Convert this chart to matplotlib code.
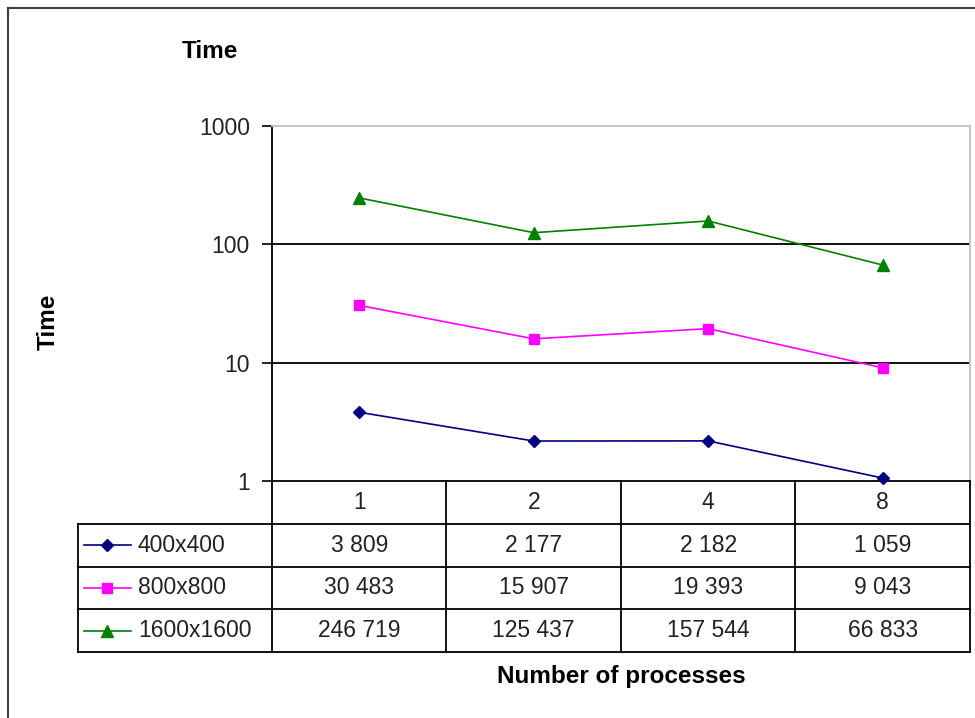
import matplotlib.pyplot as plt
import numpy as np
from matplotlib.lines import Line2D

plt.rcParams['font.family'] = ['Liberation Sans', 'DejaVu Sans']

procs = ['1', '2', '4', '8']
sizes = ['400x400', '800x800', '1600x1600']
t_400 = [3809, 2177, 2182, 1059]
t_800 = [30483, 15907, 19393, 9043]
t_1600 = [246719, 125437, 157544, 66833]
colors = ['#000080', '#FF00FF', '#008000']
markers = ['D', 's', '^']
msizes = [6, 7, 8]

series = [t_400, t_800, t_1600]

W, H = 975, 718
fig = plt.figure(figsize=(W / 100, H / 100), dpi=100)


def fbox(x0, y0, x1, y1):
    # pixel box (top-left origin) -> figure fraction rect
    return [x0 / W, 1 - y1 / H, (x1 - x0) / W, (y1 - y0) / H]


# outer chart frame
fig.add_artist(Line2D([8 / W, 8 / W], [0, 1 - 8 / H], color='#404040', lw=1.5))
fig.add_artist(Line2D([8 / W, 1], [1 - 8 / H, 1 - 8 / H], color='#404040', lw=1.5))

ax = fig.add_axes(fbox(272, 126, 970, 481))
x = np.arange(len(procs))
for vals, c, m, ms, lab in zip(series, colors, markers, msizes, sizes):
    ax.plot(x, np.array(vals) / 1000, color=c, marker=m, markersize=ms,
            lw=1.2, label=lab, zorder=3, clip_on=False)

ax.set_yscale('log')
ax.set_ylim(1, 1000)
ax.set_xlim(-0.5, len(procs) - 0.5)
ax.set_yticks([1, 10, 100, 1000])
ax.set_yticklabels(['1', '10', '100', '1000'])
ax.yaxis.set_minor_locator(plt.NullLocator())
ax.set_xticks([])
ax.tick_params(axis='y', length=7, width=1.2, pad=9, labelsize=16.5,
               labelcolor='#222222')
for yv in [10, 100]:
    ax.axhline(yv, color='black', lw=1.3, zorder=1)
for side in ['left', 'bottom']:
    ax.spines[side].set_color('black')
    ax.spines[side].set_linewidth(1.3)
for side in ['top', 'right']:
    ax.spines[side].set_color('#c0c0c0')
    ax.spines[side].set_linewidth(1.3)

# data table beneath the plot, sharing the category positions
col_w = (970 - 272) / len(procs)
lab_w = (272 - 78) / col_w
tab = fig.add_axes(fbox(78, 481, 970, 652))
tab.set_xlim(-0.5 - lab_w, len(procs) - 0.5)
tab.set_ylim(4, 0)
tab.axis('off')
lk = dict(color='black', lw=1.3, clip_on=False)
left = -0.5 - lab_w
right = len(procs) - 0.5
for r in [1, 2, 3, 4]:
    tab.plot([left, right], [r, r], **lk)
for b in np.arange(len(procs) + 1) - 0.5:
    tab.plot([b, b], [0, 4], **lk)
tab.plot([left, left], [1, 4], **lk)

fs = 16.5
for i, p in enumerate(procs):
    tab.text(i, 0.5, p, ha='center', va='center', fontsize=fs, color='#222222')
for r, (vals, c, m, ms, lab) in enumerate(zip(series, colors, markers, msizes, sizes), start=1):
    lx0 = left + 6 / col_w
    lx1 = left + 53 / col_w
    tab.plot([lx0, lx1], [r + 0.5, r + 0.5], color=c, lw=1.2, clip_on=False)
    tab.plot([(lx0 + lx1) / 2], [r + 0.5], color=c, marker=m, markersize=ms,
             clip_on=False)
    tab.text(left + 60 / col_w, r + 0.5, lab, ha='left', va='center',
             fontsize=fs, color='#222222')
    for i, v in enumerate(vals):
        tab.text(i, r + 0.5, f"{v:,}".replace(',', ' '), ha='center',
                 va='center', fontsize=fs, color='#222222')

bold = dict(fontsize=17.5, fontweight='bold', ha='center', va='center')
fig.text(210 / W, 1 - 52 / H, 'Time', **bold)
fig.text(48 / W, 1 - 322 / H, 'Time', rotation=90, **bold)
fig.text(621 / W, 1 - 677 / H, 'Number of processes', **bold)

fig.savefig('out.png', dpi=100)
